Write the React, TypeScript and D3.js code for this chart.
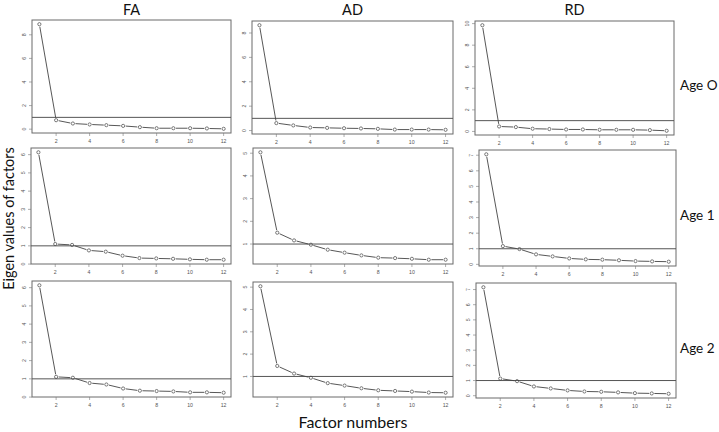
import React from 'react';
import * as d3 from 'd3';

const factorNumbers = [1, 2, 3, 4, 5, 6, 7, 8, 9, 10, 11, 12];
const measures = ['FA', 'AD', 'RD'];
const ages = ['Age O', 'Age 1', 'Age 2'];

const faAge0 = [8.9, 0.76, 0.48, 0.4, 0.34, 0.28, 0.17, 0.08, 0.08, 0.08, 0.06, 0.03];
const adAge0 = [8.64, 0.61, 0.42, 0.25, 0.22, 0.19, 0.17, 0.14, 0.08, 0.08, 0.08, 0.06];
const rdAge0 = [9.85, 0.46, 0.4, 0.25, 0.22, 0.18, 0.18, 0.15, 0.15, 0.15, 0.12, 0.06];
const faAge1 = [6.13, 1.1, 1.05, 0.75, 0.68, 0.46, 0.33, 0.31, 0.29, 0.26, 0.24, 0.24];
const adAge1 = [5.04, 1.5, 1.16, 0.97, 0.75, 0.62, 0.5, 0.4, 0.38, 0.35, 0.31, 0.31];
const rdAge1 = [7.06, 1.17, 0.98, 0.64, 0.51, 0.38, 0.32, 0.3, 0.26, 0.21, 0.19, 0.17];
const faAge2 = [6.13, 1.11, 1.06, 0.77, 0.69, 0.47, 0.35, 0.33, 0.31, 0.26, 0.26, 0.24];
const adAge2 = [5.04, 1.47, 1.13, 0.94, 0.7, 0.59, 0.47, 0.38, 0.35, 0.32, 0.28, 0.27];
const rdAge2 = [7.15, 1.13, 0.96, 0.61, 0.48, 0.35, 0.28, 0.26, 0.22, 0.17, 0.15, 0.13];

const seriesGrid = [
  [faAge0, adAge0, rdAge0],
  [faAge1, adAge1, rdAge1],
  [faAge2, adAge2, rdAge2],
];

const xTicks = [2, 4, 6, 8, 10, 12];
const yTicksGrid = [
  [[0, 2, 4, 6, 8], [0, 2, 4, 6, 8], [0, 2, 4, 6, 8, 10]],
  [[0, 1, 2, 3, 4, 5, 6], [1, 2, 3, 4, 5], [0, 1, 2, 3, 4, 5, 6, 7]],
  [[0, 1, 2, 3, 4, 5, 6], [1, 2, 3, 4, 5], [0, 1, 2, 3, 4, 5, 6, 7]],
];
const kaiserThreshold = 1;

// layout (plot-region boxes: left, right, top, bottom)
const colLeft = [[32, 252, 475], [31, 253, 479], [32, 253, 476]];
const colRight = [[231, 453, 674], [231, 453, 676], [231, 453, 676]];
const rowTop = [[20, 21, 21], [148, 148, 150], [281, 282, 283]];
const rowBottom = [[133, 134, 135], [264, 264, 266], [397, 397, 398]];

const W = 719;
const H = 432;
const mainFont = "Lato, 'Open Sans', sans-serif";
const tickFont = "'Liberation Sans', Arial, sans-serif";

function Panel({ r, c }: { r: number; c: number }) {
  const vals = seriesGrid[r][c];
  const x0 = colLeft[r][c];
  const x1 = colRight[r][c];
  const y0 = rowTop[r][c];
  const y1 = rowBottom[r][c];
  const xMin = d3.min(factorNumbers)!;
  const xMax = d3.max(factorNumbers)!;
  const xPad = (xMax - xMin) * 0.04;
  const x = d3.scaleLinear().domain([xMin - xPad, xMax + xPad]).range([x0, x1]);
  const vMin = d3.min(vals)!;
  const vMax = d3.max(vals)!;
  const yPad = (vMax - vMin) * 0.04;
  const y = d3.scaleLinear().domain([vMin - yPad, vMax + yPad]).range([y1, y0]);
  const pts = factorNumbers.map((f, i) => [x(f), y(vals[i])] as [number, number]);
  const gap = 2.6;
  const segs: string[] = [];
  for (let i = 0; i < pts.length - 1; i++) {
    const [ax, ay] = pts[i];
    const [bx, by] = pts[i + 1];
    const dx = bx - ax;
    const dy = by - ay;
    const len = Math.hypot(dx, dy);
    if (len <= 2 * gap) continue;
    const ux = dx / len;
    const uy = dy / len;
    segs.push(`M${ax + ux * gap},${ay + uy * gap}L${bx - ux * gap},${by - uy * gap}`);
  }
  const yTicks = yTicksGrid[r][c];
  const tickLen = 3;
  return (
    <g>
      <rect x={x0} y={y0} width={x1 - x0} height={y1 - y0} fill="none" stroke="#6a6a6a" strokeWidth={1} />
      <line x1={x0} x2={x1} y1={y(kaiserThreshold)} y2={y(kaiserThreshold)} stroke="#555" strokeWidth={1} />
      <path d={segs.join('')} fill="none" stroke="#444" strokeWidth={0.9} />
      {pts.map(([px, py], i) => (
        <circle key={i} cx={px} cy={py} r={1.6} fill="none" stroke="#444" strokeWidth={0.7} />
      ))}
      {xTicks.map((t) => (
        <g key={'x' + t}>
          <line x1={x(t)} x2={x(t)} y1={y1} y2={y1 + tickLen} stroke="#777" strokeWidth={0.6} />
          <text x={x(t)} y={y1 + 9.5} textAnchor="middle" fontSize={5.2} fontFamily={tickFont} fill="#555">
            {t}
          </text>
        </g>
      ))}
      {yTicks.map((t) => (
        <g key={'y' + t}>
          <line x1={x0 - tickLen} x2={x0} y1={y(t)} y2={y(t)} stroke="#777" strokeWidth={0.6} />
          <text
            transform={`translate(${x0 - 6.5},${y(t)}) rotate(-90)`}
            textAnchor="middle"
            fontSize={5.2}
            fontFamily={tickFont}
            fill="#555"
          >
            {t}
          </text>
        </g>
      ))}
    </g>
  );
}

export default function App() {
  const colCenters = measures.map((_, c) => (colLeft[0][c] + colRight[0][c]) / 2);
  const rowCenters = ages.map((_, r) => (rowTop[r][2] + rowBottom[r][2]) / 2);
  return (
    <svg width={W} height={H} style={{ position: 'absolute', left: 0, top: 0, background: '#fff' }}>
      <rect x={0} y={0} width={W} height={H} fill="#fff" />
      {seriesGrid.map((row, r) => row.map((_, c) => <Panel key={`${r}-${c}`} r={r} c={c} />))}
      {measures.map((m, c) => (
        <text key={m} x={colCenters[c]} y={15} textAnchor="middle" fontSize={14.5} fontFamily={mainFont} fill="#111">
          {m}
        </text>
      ))}
      {ages.map((a, r) => (
        <text key={a} x={680} y={rowCenters[r] + 12} fontSize={13.5} fontFamily={mainFont} fill="#111">
          {a}
        </text>
      ))}
      <text
        transform={`translate(14,${(rowTop[0][0] + rowBottom[2][0]) / 2 + 10}) rotate(-90)`}
        textAnchor="middle"
        fontSize={14.5}
        fontFamily={mainFont}
        fill="#111"
      >
        Eigen values of factors
      </text>
      <text x={353} y={428} textAnchor="middle" fontSize={16} fontFamily={mainFont} fill="#111">
        Factor numbers
      </text>
    </svg>
  );
}
